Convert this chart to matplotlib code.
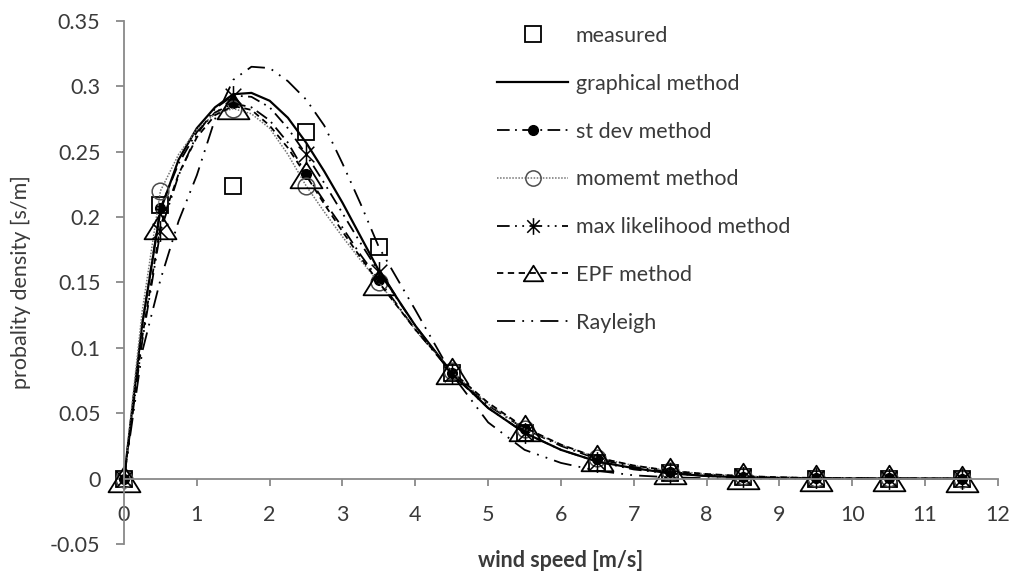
import numpy as np
import matplotlib
matplotlib.use("Agg")
import matplotlib.pyplot as plt
from matplotlib.path import Path

plt.rcParams['font.family'] = ['Lato', 'DejaVu Sans']

# measurement bins
x_bins = [0, 0.5, 1.5, 2.5, 3.5, 4.5, 5.5, 6.5, 7.5, 8.5, 9.5, 10.5, 11.5]
measured = [0, 0.209, 0.2235, 0.265, 0.177, 0.081, 0.035, 0.012, 0.004, 0.001, 0, 0, 0]

# fitted curves
x_fit = [0, 0.25, 0.5, 0.75, 1.0, 1.25, 1.5, 1.75, 2.0, 2.25, 2.5, 2.75, 3.0, 3.25, 3.5,
         4.0, 4.5, 5.0, 5.5, 6.0, 6.5, 7.0, 7.5, 8.0, 8.5, 9.0, 9.5, 10.0, 10.5, 11.0, 11.5]
graphical = [0, 0.118, 0.205, 0.244, 0.268, 0.284, 0.294, 0.295, 0.289, 0.276, 0.257, 0.235, 0.211, 0.185, 0.159,
             0.117, 0.081, 0.054, 0.035, 0.022, 0.013, 0.008, 0.004, 0.002, 0.001, 0.0005, 0.0002, 0.0001, 0.0001, 0, 0]
st_dev = [0, 0.118, 0.207, 0.241, 0.265, 0.280, 0.287, 0.284, 0.274, 0.257, 0.233, 0.212, 0.192, 0.171, 0.152,
          0.114, 0.081, 0.056, 0.038, 0.025, 0.015, 0.009, 0.005, 0.003, 0.0015, 0.0008, 0.0004, 0.0002, 0.0001, 0, 0]
moment = [0, 0.128, 0.220, 0.248, 0.267, 0.279, 0.283, 0.279, 0.268, 0.248, 0.224, 0.204, 0.185, 0.167, 0.150,
          0.114, 0.082, 0.057, 0.038, 0.026, 0.016, 0.010, 0.006, 0.0035, 0.002, 0.001, 0.0005, 0.0003, 0.0001, 0.0001, 0]
max_lik = [0, 0.105, 0.189, 0.232, 0.263, 0.283, 0.293, 0.292, 0.284, 0.268, 0.248, 0.226, 0.203, 0.180, 0.158,
           0.117, 0.080, 0.054, 0.035, 0.022, 0.013, 0.007, 0.004, 0.002, 0.001, 0.0005, 0.0002, 0.0001, 0, 0, 0]
epf = [0, 0.108, 0.193, 0.233, 0.261, 0.278, 0.285, 0.282, 0.270, 0.253, 0.232, 0.210, 0.189, 0.169, 0.150,
       0.114, 0.082, 0.058, 0.039, 0.026, 0.016, 0.010, 0.006, 0.0035, 0.002, 0.001, 0.0005, 0.0002, 0.0001, 0, 0]
rayleigh = [0, 0.097, 0.152, 0.197, 0.232, 0.275, 0.305, 0.315, 0.314, 0.304, 0.290, 0.270, 0.241, 0.210, 0.177,
            0.129, 0.080, 0.043, 0.022, 0.012, 0.006, 0.0025, 0.001, 0.0003, 0, 0, 0, 0, 0, 0, 0]

labels = ["measured", "graphical method", "st dev method", "momemt method",
          "max likelihood method", "EPF method", "Rayleigh"]

bin_idx = [i for i, x in enumerate(x_fit) if x in x_bins]

star = Path([(0, -1), (0, 1), (-0.75, -0.75), (0.75, 0.75), (-0.75, 0.75), (0.75, -0.75)],
            [Path.MOVETO, Path.LINETO, Path.MOVETO, Path.LINETO, Path.MOVETO, Path.LINETO])
tri = Path([(-1, -0.8), (1, -0.8), (0, 0.8), (-1, -0.8)],
           [Path.MOVETO, Path.LINETO, Path.LINETO, Path.CLOSEPOLY])

fig = plt.figure(figsize=(10.18, 5.8), dpi=100)
ax = fig.add_axes([0.1218, 0.0621, 0.8585, 0.9017])

lw = 1.3
ax.plot(x_bins, measured, ls='none', marker='s', ms=12, mfc='none', mec='black', mew=1.3,
        clip_on=False, label=labels[0])
ax.plot(x_fit, graphical, color='black', lw=1.6, clip_on=False, label=labels[1])
ax.plot(x_fit, st_dev, color='black', lw=lw, dashes=(7, 3, 1, 3), marker='o', ms=7,
        markevery=bin_idx, mfc='black', mec='black', clip_on=False, label=labels[2])
ax.plot(x_fit, moment, color='0.45', lw=1.1, dashes=(1, 1), marker='o', ms=12,
        markevery=bin_idx, mfc='none', mec='0.3', mew=1.1, clip_on=False, label=labels[3])
ax.plot(x_fit, max_lik, color='black', lw=lw, dashes=(7, 3, 1, 3, 1, 3), marker=star, ms=15,
        markevery=bin_idx, mfc='none', mec='black', mew=1.1, clip_on=False, label=labels[4])
ax.plot(x_fit, epf, color='black', lw=lw, dashes=(3.5, 2.5), marker=tri, ms=23,
        markevery=bin_idx, mfc='none', mec='black', mew=1.3, clip_on=False, label=labels[5])
ax.plot(x_fit, rayleigh, color='black', lw=lw, dashes=(10, 4, 1, 4, 1, 4), clip_on=False, label=labels[6])

ax.set_xlim(0, 12)
ax.set_ylim(-0.05, 0.35)
ax.set_xticks(range(13))
yt = [-0.05, 0, 0.05, 0.1, 0.15, 0.2, 0.25, 0.3, 0.35]
ax.set_yticks(yt)
ax.set_yticklabels(["-0.05", "0", "0.05", "0.1", "0.15", "0.2", "0.25", "0.3", "0.35"])

for s in ['top', 'right']:
    ax.spines[s].set_visible(False)
ax.spines['bottom'].set_position(('data', 0))
for s in ['left', 'bottom']:
    ax.spines[s].set_color('#898989')
    ax.spines[s].set_linewidth(1.3)
ax.tick_params(axis='y', direction='out', length=6, width=1.3, color='#898989',
               pad=11, labelsize=15.5, labelcolor='#3a3a3a')
ax.tick_params(axis='x', direction='out', length=5, width=1.3, color='#898989',
               pad=14, labelsize=15.5, labelcolor='#3a3a3a')

ax.set_xlabel("wind speed [m/s]", fontsize=15.5, fontweight='bold', color='#3a3a3a')
ax.xaxis.set_label_coords(0.5, -0.012)
ax.set_ylabel("probality density [s/m]", fontsize=15.5, color='#3a3a3a')
ax.yaxis.set_label_coords(-0.106, 0.5)

leg = ax.legend(loc='upper left', bbox_to_anchor=(497 / 1018, 1 - 26 / 580),
                bbox_transform=fig.transFigure, frameon=False, fontsize=15.5,
                handlelength=3.3, handletextpad=0.35, labelspacing=1.29, borderpad=0,
                borderaxespad=0)
for t in leg.get_texts():
    t.set_color('#3a3a3a')
hs = leg.legend_handles
hs[0].set_markersize(12)
hs[3].set_markersize(11)
hs[4].set_markersize(12)
hs[5].set_markersize(14)

fig.savefig("out.png", dpi=100)
